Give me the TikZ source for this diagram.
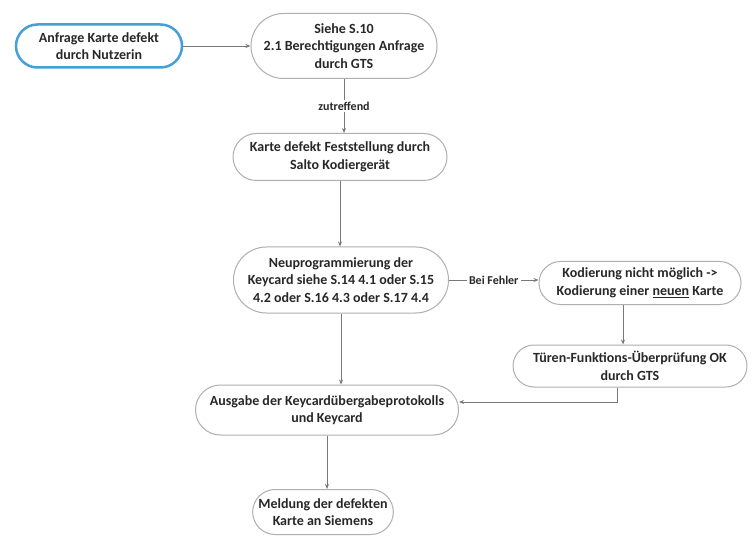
\documentclass[tikz,border=0pt]{standalone}
\usepackage{fontspec}
\setmainfont{Carlito}
\usetikzlibrary{shapes.misc,arrows.meta}
\definecolor{txt}{RGB}{40,40,40}
\definecolor{bord}{RGB}{175,175,175}
\definecolor{lne}{RGB}{120,120,120}
\definecolor{blu}{RGB}{70,160,215}
\tikzset{
  box/.style={rounded rectangle, draw=bord, line width=1pt, fill=white, align=center,
    font=\fontsize{14}{17.5}\selectfont\bfseries, text=txt, inner sep=1pt},
  startbox/.style={box, draw=blu, line width=2.5pt},
  conn/.style={draw=lne, line width=0.9pt, -{Stealth[length=5pt,width=4pt]}},
  lbl/.style={font=\fontsize{12}{13}\selectfont\bfseries, text=txt, fill=white, inner sep=2pt}
}
\begin{document}
\begin{tikzpicture}[x=1pt,y=-1pt]
\useasboundingbox[fill=white] (0,0) rectangle (752,537);
\node[startbox, minimum width=168pt, minimum height=43pt] (A) at (99,46) {Anfrage Karte defekt\\durch Nutzerin};
\node[box, minimum width=188pt, minimum height=65pt] (B) at (344,46) {Siehe S.10\\2.1 Berechtigungen Anfrage\\durch GTS};
\node[box, minimum width=216pt, minimum height=47pt] (C) at (340,157) {Karte defekt Feststellung durch\\Salto Kodierger\"at};
\node[box, minimum width=217pt, minimum height=66pt] (D) at (341,280) {Neuprogrammierung der\\Keycard siehe S.14 4.1 oder S.15\\4.2 oder S.16 4.3 oder S.17 4.4};
\node[box, minimum width=204pt, minimum height=43pt] (E) at (640,283) {Kodierung nicht m\"oglich ->\\Kodierung einer \underline{neuen} Karte};
\node[box, minimum width=236pt, minimum height=42pt] (F) at (630,366) {T\"uren-Funktions-\"Uberpr\"ufung OK\\durch GTS};
\node[box, minimum width=265pt, minimum height=50pt] (G) at (327,410) {Ausgabe der Keycard\"ubergabeprotokolls\\und Keycard};
\node[box, minimum width=137pt, minimum height=45pt] (H) at (323,512) {Meldung der defekten\\Karte an Siemens};

\draw[conn] (A.east) -- (B.west);
\draw[conn] (B.south) -- node[lbl] {zutreffend} (B.south |- C.north);
\draw[conn] (C.south) -- (C.south |- D.north);
\draw[conn] (D.east) -- node[lbl] {Bei Fehler} (D.east -| E.west);
\draw[conn] ([xshift=-17pt]E.south) -- ([xshift=-17pt]E.south |- F.north);
\draw[conn] ([xshift=-13pt]F.south) |- ([yshift=8pt]G.east);
\draw[conn] (D.south) -- (D.south |- G.north);
\draw[conn] (G.south) -- (G.south |- H.north);
\end{tikzpicture}
\end{document}
